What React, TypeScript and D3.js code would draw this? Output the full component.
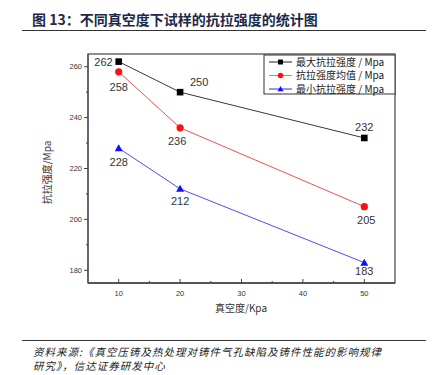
import React from "react";
import * as d3 from "d3";

const xValues = [10, 20, 50];
const maxStrength = [262, 250, 232];
const meanStrength = [258, 236, 205];
const minStrength = [228, 212, 183];
const xTicks = [10, 20, 30, 40, 50];
const yTicks = [180, 200, 220, 240, 260];
const seriesNames = ["最大抗拉强度 / Mpa", "抗拉强度均值 / Mpa", "最小抗拉强度 / Mpa"];

const W = 444, H = 375;
const left = 88, right = 395, top = 54, bottom = 283;

export default function App() {
  const x = d3.scaleLinear().domain([5, 55]).range([left, right]);
  const y = d3.scaleLinear().domain([175, 265]).range([bottom, top]);
  const line = d3.line<number>().x((_, i) => x(xValues[i])).y((d) => y(d));
  const sans = "Arial, 'Liberation Sans', 'Noto Sans CJK SC', sans-serif";
  const cjk = "'Noto Sans CJK SC', sans-serif";
  const series = [
    { name: seriesNames[0], data: maxStrength, color: "#222", legendColor: "#222", marker: "square" },
    { name: seriesNames[1], data: meanStrength, color: "#e84040", legendColor: "#f47070", marker: "circle" },
    { name: seriesNames[2], data: minStrength, color: "#3a3ae8", legendColor: "#2a2af0", marker: "triangle" },
  ];
  const markerFill = ["#000", "#ff1010", "#1010ff"];
  const drawMarker = (kind: string, cx: number, cy: number, fill: string, s = 1, key?: any) => {
    if (kind === "square") return <rect key={key} x={cx - 3.3 * s} y={cy - 3.3 * s} width={6.6 * s} height={6.6 * s} fill={fill} />;
    if (kind === "circle") return <circle key={key} cx={cx} cy={cy} r={3.6 * s} fill={fill} />;
    return <path key={key} d={`M${cx},${cy - 4 * s}L${cx + 4 * s},${cy + 3 * s}L${cx - 4 * s},${cy + 3 * s}Z`} fill={fill} />;
  };
  const labelPos = [
    [[-6, 0, "end"], [19, -10, "middle"], [0, -11, "middle"]],
    [[0, 15, "middle"], [-3, 13, "middle"], [2, 13, "middle"]],
    [[0, 14, "middle"], [0, 12, "middle"], [0, 8, "middle"]],
  ];
  const minorX = [15, 25, 35, 45];
  const minorY = [190, 210, 230, 250];
  return (
    <svg width={W} height={H} style={{ position: "absolute", left: 0, top: 0, background: "#fff" }}>
      <rect width={W} height={H} fill="#fff" />
      <text x={32} y={25} fontFamily={cjk} fontWeight="bold" fontSize={14} fill="#1c2a4a">图 13：不同真空度下试样的抗拉强度的统计图</text>
      <line x1={22} x2={426} y1={30.5} y2={30.5} stroke="#333" strokeWidth={1} />

      <rect x={left} y={top} width={right - left} height={bottom - top} fill="none" stroke="#444" strokeWidth={1.2} />
      <line x1={left} x2={right} y1={bottom} y2={bottom} stroke="#555" strokeWidth={2} />
      <line x1={left} x2={left} y1={top} y2={bottom} stroke="#555" strokeWidth={1.4} />

      {xTicks.map((t) => (
        <g key={"xt" + t}>
          <line x1={x(t)} x2={x(t)} y1={bottom} y2={bottom - 4} stroke="#444" />
          <text x={x(t)} y={bottom + 13} textAnchor="middle" fontFamily={sans} fontSize={7.5} fill="#333">{t}</text>
        </g>
      ))}
      {minorX.map((t) => <line key={"mx" + t} x1={x(t)} x2={x(t)} y1={bottom} y2={bottom - 2} stroke="#444" />)}
      {yTicks.map((t) => (
        <g key={"yt" + t}>
          <line x1={left} x2={left - 4} y1={y(t)} y2={y(t)} stroke="#444" />
          <text x={82} y={y(t) + 2.6} textAnchor="end" fontFamily={sans} fontSize={7.5} fill="#333">{t}</text>
        </g>
      ))}
      {minorY.map((t) => <line key={"my" + t} x1={left} x2={left - 2} y1={y(t)} y2={y(t)} stroke="#444" />)}

      <text x={241} y={312} textAnchor="middle" fontFamily={cjk} fontSize={10} fill="#333">真空度/Kpa</text>
      <text transform={`translate(51,${(top + bottom) / 2 + 4}) rotate(-90)`} textAnchor="middle" fontFamily={cjk} fontSize={10} fill="#333">抗拉强度/Mpa</text>

      {series.map((s, si) => (
        <g key={"s" + si}>
          <path d={line(s.data) || ""} fill="none" stroke={s.color} strokeWidth={0.9} />
          {s.data.map((v, i) => drawMarker(s.marker, x(xValues[i]), y(v), markerFill[si], 1, i))}
          {s.data.map((v, i) => {
            const [dx, dy, anchor] = labelPos[si][i] as [number, number, string];
            return (
              <text key={"l" + i} x={x(xValues[i]) + dx} y={y(v) + dy + 4} textAnchor={anchor as any} fontFamily={sans} fontSize={11} fill="#333">{v}</text>
            );
          })}
        </g>
      ))}

      <rect x={264} y={55} width={131} height={39} fill="#fff" stroke="#333" strokeWidth={1} />
      {series.map((s, i) => {
        const ly = 62 + i * 13.5;
        return (
          <g key={"lg" + i}>
            <line x1={269} x2={292} y1={ly} y2={ly} stroke={s.legendColor} strokeWidth={1} />
            {drawMarker(s.marker, 280.5, ly, markerFill[i], 0.75)}
            <text x={296} y={ly + 3.8} fontFamily={cjk} fontSize={10} fill="#222">{s.name}</text>
          </g>
        );
      })}

      <line x1={22} x2={426} y1={340.5} y2={340.5} stroke="#333" strokeWidth={1} />
      <text x={33} y={355.5} fontFamily={cjk} fontStyle="italic" fontSize={10.5} letterSpacing={1} fill="#222">资料来源:《真空压铸及热处理对铸件气孔缺陷及铸件性能的影响规律</text>
      <text x={33} y={370} fontFamily={cjk} fontStyle="italic" fontSize={10.5} letterSpacing={1} fill="#222">研究》，信达证券研发中心</text>
    </svg>
  );
}
